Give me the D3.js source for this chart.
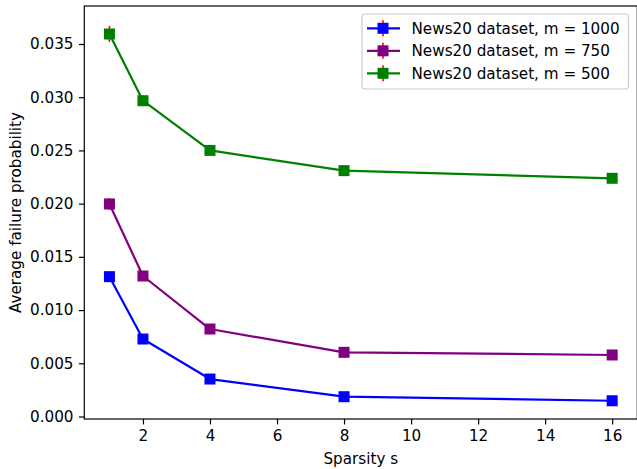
<!DOCTYPE html>
<html>
<head>
<meta charset="utf-8">
<script src="https://cdn.jsdelivr.net/npm/d3@7"></script>
<style>
  html, body { margin: 0; padding: 0; background: #fff; }
  svg { display: block; font-family: "DejaVu Sans", sans-serif; }
</style>
</head>
<body>
<svg id="chart" width="637" height="469"></svg>
<script>
// Sparsity levels on the x axis
const sparsity = [1, 2, 4, 8, 16];

// Series labels and colours
const seriesLabels = ["News20 dataset, m = 1000", "News20 dataset, m = 750", "News20 dataset, m = 500"];
const seriesColors = ["#0000ff", "#800080", "#008000"];

// Average failure probability per series
const failM1000 = [0.01314, 0.00728, 0.00352, 0.00186, 0.00148];
const failM750  = [0.01997, 0.01320, 0.00822, 0.00603, 0.00578];
const failM500  = [0.03594, 0.02967, 0.02500, 0.02310, 0.02238];

// Standard error of each average
const errM1000 = [0.00020, 0.00015, 0.00010, 0.00008, 0.00006];
const errM750  = [0.00055, 0.00030, 0.00020, 0.00012, 0.00010];
const errM500  = [0.00075, 0.00048, 0.00040, 0.00025, 0.00020];

const xTicks = [2, 4, 6, 8, 10, 12, 14, 16];
const yTicks = [0.000, 0.005, 0.010, 0.015, 0.020, 0.025, 0.030, 0.035];

const series = [
  { label: seriesLabels[0], color: seriesColors[0], values: failM1000, errors: errM1000 },
  { label: seriesLabels[1], color: seriesColors[1], values: failM750,  errors: errM750 },
  { label: seriesLabels[2], color: seriesColors[2], values: failM500,  errors: errM500 }
];

const svg = d3.select("#chart");
const fontSize = 15.2;

const plot = { left: 84.3, right: 637.3, top: 6, bottom: 419 };

const x = d3.scaleLinear().domain([0.25, 16.75]).range([plot.left, plot.right]);
const y = d3.scaleLinear().domain([-0.000235, 0.03857]).range([plot.bottom, plot.top]);

// Axes
const xAxis = d3.axisBottom(x).tickValues(xTicks).tickFormat(d3.format("d"))
  .tickSizeInner(5.4).tickSizeOuter(0).tickPadding(5.4);
const yAxis = d3.axisLeft(y).tickValues(yTicks).tickFormat(d3.format(".3f"))
  .tickSizeInner(5.4).tickSizeOuter(0).tickPadding(5.4);

const gx = svg.append("g").attr("transform", `translate(0,${plot.bottom})`).call(xAxis);
const gy = svg.append("g").attr("transform", `translate(${plot.left},0)`).call(yAxis);
[gx, gy].forEach(g => {
  g.select(".domain").remove();
  g.selectAll(".tick line").attr("stroke", "#000").attr("stroke-width", 1.2);
  g.selectAll(".tick text").attr("fill", "#000").attr("font-size", fontSize)
    .attr("font-family", "DejaVu Sans");
});

// Data series: error bars beneath, then line and square markers
const line = d3.line().x((d, i) => x(sparsity[i])).y(d => y(d));
const markerSize = 11;

series.forEach(s => {
  const g = svg.append("g");
  g.selectAll("line.err").data(s.values).join("line")
    .attr("class", "err")
    .attr("x1", (d, i) => x(sparsity[i])).attr("x2", (d, i) => x(sparsity[i]))
    .attr("y1", (d, i) => y(d - s.errors[i])).attr("y2", (d, i) => y(d + s.errors[i]))
    .attr("stroke", "#ff0000").attr("stroke-width", 1.6);
  g.append("path").datum(s.values)
    .attr("d", line).attr("fill", "none")
    .attr("stroke", s.color).attr("stroke-width", 2.2).attr("stroke-linejoin", "round");
  g.selectAll("rect.mk").data(s.values).join("rect")
    .attr("class", "mk")
    .attr("x", (d, i) => x(sparsity[i]) - markerSize / 2)
    .attr("y", d => y(d) - markerSize / 2)
    .attr("width", markerSize).attr("height", markerSize)
    .attr("fill", s.color);
});

// Frame
svg.append("rect")
  .attr("x", plot.left).attr("y", plot.top)
  .attr("width", plot.right - plot.left).attr("height", plot.bottom - plot.top)
  .attr("fill", "none").attr("stroke", "#000").attr("stroke-width", 1.2);

// Axis titles
svg.append("text")
  .attr("x", x(8.5)).attr("y", 464)
  .attr("text-anchor", "middle").attr("font-size", fontSize).attr("fill", "#000")
  .text("Sparsity s");
svg.append("text")
  .attr("transform", `translate(21,${(plot.top + plot.bottom) / 2}) rotate(-90)`)
  .attr("text-anchor", "middle").attr("font-size", fontSize).attr("fill", "#000")
  .text("Average failure probability");

// Legend
const legend = svg.append("g");
legend.append("rect")
  .attr("x", 362).attr("y", 14).attr("width", 266.5).attr("height", 75)
  .attr("rx", 3).attr("fill", "#fff").attr("fill-opacity", 0.8)
  .attr("stroke", "#cccccc").attr("stroke-width", 1.2);
const rowY = [28.3, 50.8, 73.3];
series.forEach((s, i) => {
  const yy = rowY[i];
  legend.append("line").attr("x1", 383).attr("x2", 383)
    .attr("y1", yy - 8).attr("y2", yy + 8)
    .attr("stroke", "#ff0000").attr("stroke-width", 1.6);
  legend.append("line").attr("x1", 367).attr("x2", 400)
    .attr("y1", yy).attr("y2", yy)
    .attr("stroke", s.color).attr("stroke-width", 2.2);
  legend.append("rect")
    .attr("x", 383 - markerSize / 2).attr("y", yy - markerSize / 2)
    .attr("width", markerSize).attr("height", markerSize).attr("fill", s.color);
  legend.append("text").attr("x", 411.5).attr("y", yy)
    .attr("dy", "0.36em").attr("font-size", fontSize).attr("fill", "#000")
    .text(s.label);
});
</script>
</body>
</html>
